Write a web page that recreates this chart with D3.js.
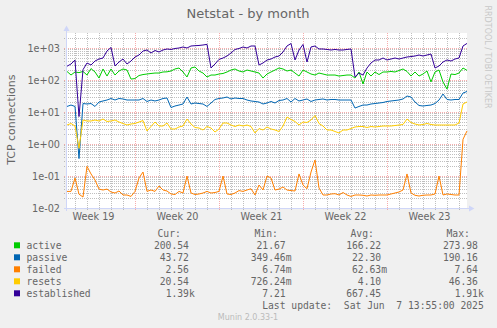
<!DOCTYPE html>
<html><head><meta charset="utf-8">
<script src="https://cdn.jsdelivr.net/npm/d3@7"></script>
<style>
html,body{margin:0;padding:0;background:#F0F0F0;}
svg{display:block;}
text{font-family:"DejaVu Sans",sans-serif;fill:#666666;}
.mono{font-family:"DejaVu Sans Mono",monospace;white-space:pre;}
</style></head><body>
<svg id="chart" width="497" height="328"></svg>
<script>
// ---------- data ----------
const seriesNames = ["active","passive","failed","resets","established"];
const seriesColors = ["#00CC00","#0066B3","#FF8000","#FFCC00","#330099"];
// samples every 8 hours starting 2025-05-06 08:00 UTC
const sampleStart = "2025-05-06T08:00:00Z";
const sampleHours = 8;

const active = [185,143,178,170,185,143,228,178,115,221,133,221,143,191,221,205,107,111,138,148,
 154,160,165,165,178,180,191,221,237,178,124,237,255,191,165,124,143,143,154,160,
 178,205,221,191,178,205,191,178,165,115,154,178,205,237,221,191,205,165,133,205,
 178,154,143,165,154,143,143,143,133,138,143,143,115,178,75,178,133,178,148,178,
 178,185,178,198,221,185,133,178,133,154,191,87,178,205,87,52,154,148,165,237,200.54];
const passive = [14.9,16.5,14.9,0.35,18.4,17.8,18.4,14.9,20.5,22.1,23.7,26.4,23.7,26.4,25.5,23.7,23.7,23.7,23.7,26.4,
 21.3,23.7,22.1,23.7,26.4,27.4,13.8,15.4,16.5,17.8,29.4,17.8,19.1,18.4,17.8,14.9,19.1,24.6,26.4,27.4,
 29.4,25.5,27.4,26.4,26.4,23.7,22.1,21.3,20.5,17.8,19.1,21.3,19.1,22.9,23.7,26.4,20.5,26.4,22.1,23.7,
 25.5,21.3,23.7,24.6,25.5,23.7,24.6,24.6,23.7,23.7,23.7,23.7,13.3,14.9,16.5,16.5,17.8,18.4,19.1,19.8,
 21.3,22.1,22.9,23.7,25.5,31.6,29.4,20.5,16,15.4,16,16.5,18.4,23.7,36.5,24.6,23.7,24.6,24.6,39.2,43.72];
const failed = [0.033,0.033,0.087,0.027,0.022,0.2,0.116,0.075,0.039,0.0365,0.039,0.0316,0.0294,0.034,0.0255,0.0255,0.023,0.033,0.087,0.133,
 0.033,0.0365,0.033,0.0487,0.0365,0.034,0.0274,0.0264,0.033,0.0294,0.1,0.0294,0.0264,0.0274,0.0294,0.033,0.0294,0.0305,0.033,0.1,
 0.0274,0.0264,0.0294,0.035,0.033,0.0365,0.04,0.0255,0.0523,0.0365,0.1,0.087,0.0365,0.039,0.0453,0.0365,0.035,0.034,0.116,0.0523,
 0.04,0.133,0.316,0.0422,0.0255,0.0255,0.0274,0.028,0.0255,0.0305,0.0255,0.023,0.0255,0.0255,0.025,0.0237,0.0255,0.025,0.0255,0.0255,
 0.0255,0.0274,0.0294,0.0316,0.0365,0.116,0.0294,0.025,0.0237,0.025,0.0255,0.0255,0.0274,0.1,0.0255,0.0274,0.0264,0.0255,0.0255,1.4,2.56];
const resets = [3.92,4.37,3.65,0.73,5.62,5.23,5.23,5.62,5.23,6.04,5.05,5.23,5.62,4.87,4.37,3.92,4.22,4.37,4.87,5.4,
 2.55,3.52,4.87,3.65,3.65,4.53,2.94,2.94,3.4,3.65,6.04,4.22,3.28,3.16,2.74,3.52,3.16,2.37,2.94,4.53,
 4.53,3.92,3.52,3.92,3.65,3.92,3.52,2.21,3.05,2.74,3.4,2.94,2.74,2.46,3.65,6.98,5.83,5.05,3.92,4.87,
 4.7,5.62,7.8,4.37,3.65,2.74,2.74,2.46,2.21,2.74,2.74,3.05,3.4,3.52,3.52,3.28,3.52,3.4,3.52,3.65,
 3.65,3.65,3.78,3.92,4.07,6.04,4.7,4.22,3.92,4.07,4.37,4.07,3.92,3.92,3.92,3.92,3.92,3.92,4.53,17.8,20.54];
const established = [270,316,420,7.21,210,340,294,392,453,487,806,1040,274,365,453,316,392,523,604,806,
 866,698,836,750,866,931,900,965,1000,1075,1000,1155,1180,1200,1241,1300,237,316,440,487,
 562,698,900,965,1075,1000,1155,1155,294,340,420,453,523,562,750,1155,1380,422,866,1290,
 365,1075,1155,931,931,900,866,900,866,866,900,931,124,165,143,237,340,422,422,487,
 422,453,487,453,487,523,540,562,604,562,604,649,237,274,365,422,392,453,487,1155,1390];

const yTicks = [0.01,0.1,1,10,100,1000];
const yTickLabels = ["1e-02","1e-01","1e+00","1e+01","1e+02","1e+03"];
const yMax = 2943;

const curVals = ["200.54","43.72","2.56","20.54","1.39k"];
const minVals = ["21.67","349.46m","6.74m","726.24m","7.21"];
const avgVals = ["166.22","22.30","62.63m","4.10","667.45"];
const maxVals = ["273.98","190.16","7.64","46.36","1.91k"];
const statHeaders = ["Cur:","Min:","Avg:","Max:"];

const titleText = "Netstat - by month";
const yLabelText = "TCP connections";
const lastUpdate = "Last update:  Sat Jun  7 13:55:00 2025";
const rrdMark = "RRDTOOL / TOBI OETIKER";
const muninMark = "Munin 2.0.33-1";

// ---------- layout ----------
const L = 67, R = 467, T = 33, B = 208;
const svg = d3.select("#chart");
svg.append("rect").attr("width",497).attr("height",328).attr("fill","#F0F0F0");
svg.append("rect").attr("x",L).attr("y",T).attr("width",R-L).attr("height",B-T).attr("fill","#FFFFFF");

const series = [active, passive, failed, resets, established];
const t0 = new Date(sampleStart);
const times = active.map((_, i) => new Date(+t0 + i * sampleHours * 3600e3));

const x = d3.scaleUtc().domain([times[0], times[times.length-1]]).range([L, R]);
const y = d3.scaleLog().domain([yTicks[0], yMax]).range([B, T]);

// ---------- grid ----------
const minorColor = "rgba(128,128,128,0.5)";
const majorColor = "rgba(240,90,90,0.5)";
const grid = svg.append("g");
const minorY = [];
yTicks.forEach(d => { for (let m = 2; m <= 9; m++) { const v = d*m; if (v <= yMax) minorY.push(v); } });
grid.selectAll(".ym").data(minorY).join("line")
  .attr("x1", L-3).attr("x2", R).attr("y1", d => Math.round(y(d))+0.5).attr("y2", d => Math.round(y(d))+0.5)
  .attr("stroke",minorColor).attr("stroke-dasharray","1,1");
const days = d3.utcDay.range(d3.utcDay.ceil(times[0]), times[times.length-1]).filter(d => d3.utcMonday.floor(d) - d !== 0);
grid.selectAll(".xm").data(days).join("line")
  .attr("x1", d => Math.round(x(d))+0.5).attr("x2", d => Math.round(x(d))+0.5).attr("y1", T).attr("y2", B+3)
  .attr("stroke",minorColor).attr("stroke-dasharray","1,1");
grid.selectAll(".yM").data(yTicks).join("line")
  .attr("x1", L-3).attr("x2", R).attr("y1", d => Math.round(y(d))+0.5).attr("y2", d => Math.round(y(d))+0.5)
  .attr("stroke",majorColor).attr("stroke-dasharray","1,1");
const mondays = d3.utcMonday.range(d3.utcMonday.ceil(times[0]), times[times.length-1]);
grid.selectAll(".xM").data(mondays).join("line")
  .attr("x1", d => Math.round(x(d))+0.5).attr("x2", d => Math.round(x(d))+0.5).attr("y1", T).attr("y2", B+3)
  .attr("stroke",majorColor).attr("stroke-dasharray","1,1");

// ---------- series ----------
svg.append("clipPath").attr("id","clip").append("rect").attr("x",L).attr("y",T).attr("width",R-L+1).attr("height",B-T);
const line = d3.line().defined(d => d.v != null).x(d => x(d.t)).y(d => y(d.v));
const gl = svg.append("g").attr("clip-path","url(#clip)");
series.forEach((s, k) => {
  gl.append("path").datum(s.map((v,i) => ({t: times[i], v})))
    .attr("d", line).attr("fill","none").attr("stroke", seriesColors[k]).attr("stroke-width",1);
});

// ---------- axes ----------
const axisColor = "#CFD6F8";
svg.append("line").attr("x1",66.5).attr("x2",66.5).attr("y1",B+3).attr("y2",30).attr("stroke",axisColor);
svg.append("line").attr("x1",64).attr("x2",470).attr("y1",B+0.5).attr("y2",B+0.5).attr("stroke",axisColor);
svg.append("path").attr("d","M63.5,31 L69.5,31 L66.5,25.5 Z").attr("fill",axisColor);
svg.append("path").attr("d","M469,205.5 L469,211.5 L474.5,208.5 Z").attr("fill",axisColor);

const yAxis = d3.axisLeft(y).tickValues(yTicks).tickFormat((d,i) => yTickLabels[i]).tickSize(0).tickPadding(7);
const gy = svg.append("g").attr("transform",`translate(${L},0)`).call(yAxis);
gy.select(".domain").remove();
gy.selectAll("text").attr("font-family","DejaVu Sans").attr("font-size","9.7px").attr("fill","#666666").attr("dy","0.36em");

const fmtWeek = d3.utcFormat("%V");
const labelDates = d3.utcMonday.range(d3.utcMonday.floor(times[0]), times[times.length-1])
  .map(d => d3.utcHour.offset(d, 84)).filter(d => d >= times[0] && d <= times[times.length-1]);
const xAxis = d3.axisBottom(x).tickValues(labelDates).tickFormat(d => "Week " + fmtWeek(d)).tickSize(0).tickPadding(5);
const gx = svg.append("g").attr("transform",`translate(0,${B})`).call(xAxis);
gx.select(".domain").remove();
gx.selectAll("text").attr("font-family","DejaVu Sans").attr("font-size","9.7px").attr("fill","#666666");

// ---------- titles ----------
svg.append("text").attr("x",248).attr("y",18.3).attr("text-anchor","middle").attr("font-size","13px").text(titleText);
svg.append("text").attr("transform","translate(15,119.7) rotate(-90)").attr("text-anchor","middle")
  .attr("font-size","11px").text(yLabelText);
svg.append("text").attr("transform","translate(485,57) rotate(90)").attr("text-anchor","middle")
  .attr("font-size","8px").style("fill","#C8C8C8").text(rrdMark);

// ---------- legend ----------
const fs = 9.7, cw = fs * 0.602;
const rowBase = 249.3, rowStep = 12;
const colRight = [194.8, 291.5, 387, 483.8];
const headX = [157.5, 254.5, 350.5, 446.5];
const lg = svg.append("g");
statHeaders.forEach((h,j) => lg.append("text").attr("class","mono").attr("x",headX[j]).attr("y",rowBase-rowStep)
  .attr("font-size",fs+"px").text(h));
const cols = [curVals, minVals, avgVals, maxVals];
seriesNames.forEach((n,k) => {
  const by = rowBase + k*rowStep;
  lg.append("rect").attr("x",14).attr("y",by-7).attr("width",6).attr("height",6).attr("fill",seriesColors[k]);
  lg.append("text").attr("class","mono").attr("x",26.5).attr("y",by).attr("font-size",fs+"px").text(n);
  cols.forEach((c,j) => {
    const s = c[k];
    const hasSuffix = !/[0-9]$/.test(s);
    lg.append("text").attr("class","mono").attr("text-anchor","end")
      .attr("x", colRight[j] - (hasSuffix ? 0 : cw)).attr("y", by).attr("font-size",fs+"px").text(s);
  });
});
lg.append("text").attr("class","mono").attr("text-anchor","end").attr("x",colRight[3]).attr("y",rowBase+5*rowStep)
  .attr("font-size",fs+"px").text(lastUpdate);
svg.append("text").attr("x",248).attr("y",320).attr("text-anchor","middle").attr("font-size","8px")
  .style("fill","#BBBBBB").text(muninMark);
</script>
</body></html>
